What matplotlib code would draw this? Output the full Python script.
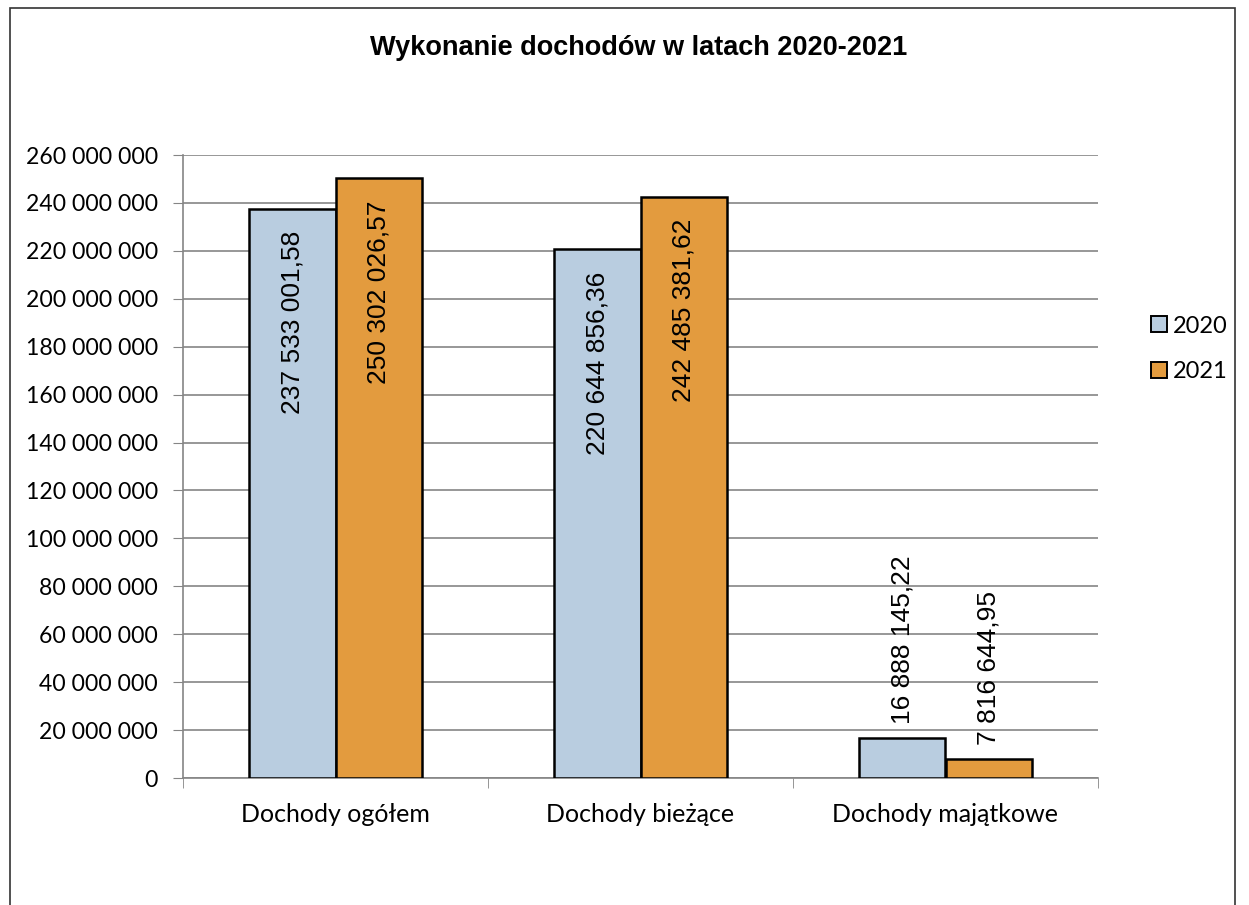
import matplotlib
matplotlib.use("Agg")
import matplotlib.pyplot as plt
import matplotlib.transforms as mtrans
import numpy as np
from matplotlib.patches import Rectangle, Patch

categories = ["Dochody ogółem", "Dochody bieżące", "Dochody majątkowe"]
series_names = ["2020", "2021"]
values_2020 = [237533001.58, 220644856.36, 16888145.22]
values_2021 = [250302026.57, 242485381.62, 7816644.95]
labels_2020 = ["237 533 001,58", "220 644 856,36", "16 888 145,22"]
labels_2021 = ["250 302 026,57", "242 485 381,62", "7 816 644,95"]
yticks = list(range(0, 260000001, 20000000))
title = "Wykonanie dochodów w latach 2020-2021"

col_2020 = "#B9CDE0"
col_2021 = "#E39B3E"

def fmt(v):
    return f"{v:,}".replace(",", " ") if v else "0"

fig = plt.figure(figsize=(12.49, 9.05), dpi=100)
ax = fig.add_axes([183/1249, 127/905, 915/1249, 623/905])

x = np.arange(len(categories))
w = 0.285
b1 = ax.bar(x - w/2, values_2020, w, color=col_2020, edgecolor="black", linewidth=1.8, zorder=3, label=series_names[0])
b2 = ax.bar(x + w/2, values_2021, w, color=col_2021, edgecolor="black", linewidth=1.8, zorder=3, label=series_names[1])

ax.set_xlim(-0.5, 2.5)
ax.set_ylim(0, 260000000)
ax.set_yticks(yticks)
ax.set_yticklabels([fmt(v) for v in yticks], fontfamily="Lato", fontsize=16.6)
ax.yaxis.grid(True, color="#858585", linewidth=1.2, zorder=0)
ax.set_axisbelow(True)
for s in ["top", "right"]:
    ax.spines[s].set_visible(False)
for s in ["left", "bottom"]:
    ax.spines[s].set_color("#858585")
    ax.spines[s].set_linewidth(1.2)
ax.tick_params(axis="y", length=7, color="#858585", pad=11)
ax.set_xticks(x)
ax.set_xticklabels(categories, fontfamily="Lato", fontsize=18)
ax.tick_params(axis="x", length=0, pad=18)
ax.set_xticks([-0.5, 0.5, 1.5, 2.5], minor=True)
ax.tick_params(axis="x", which="minor", length=7, color="#858585", direction="out")

# data labels
for bars, labs in ((b1, labels_2020), (b2, labels_2021)):
    for rect, lab in zip(bars, labs):
        h = rect.get_height()
        cx = rect.get_x() + rect.get_width()/2
        if h > 100000000:
            ax.text(cx, h, lab, rotation=90, ha="center", va="top", fontsize=19,
                    fontfamily="Liberation Sans", zorder=4,
                    transform=ax.transData + mtrans.ScaledTranslation(0, -0.22, fig.dpi_scale_trans))
        else:
            ax.text(cx, h, lab, rotation=90, ha="center", va="bottom", fontsize=19,
                    fontfamily="Liberation Sans", zorder=4,
                    transform=ax.transData + mtrans.ScaledTranslation(0, 0.14, fig.dpi_scale_trans))

fig.text(639/1249, 1 - 48/905, title, ha="center", va="center", fontsize=19.5,
         fontweight="bold", fontfamily="Liberation Sans")

handles = [Patch(facecolor=col_2020, edgecolor="black", linewidth=1.4),
           Patch(facecolor=col_2021, edgecolor="black", linewidth=1.4)]
fig.legend(handles, series_names, loc="center left", bbox_to_anchor=(1130/1249, 1 - 349/905),
           frameon=False, prop={"family": "Lato", "size": 17}, handlelength=0.65,
           handleheight=0.65, handletextpad=0.25, labelspacing=1.05)

fig.patches.append(Rectangle((10/1249, -0.05), (1235-10)/1249, 1.05 - 8/905,
                             transform=fig.transFigure, fill=False, edgecolor="#333333",
                             linewidth=1.2, figure=fig))

fig.savefig("out.png", dpi=100)
